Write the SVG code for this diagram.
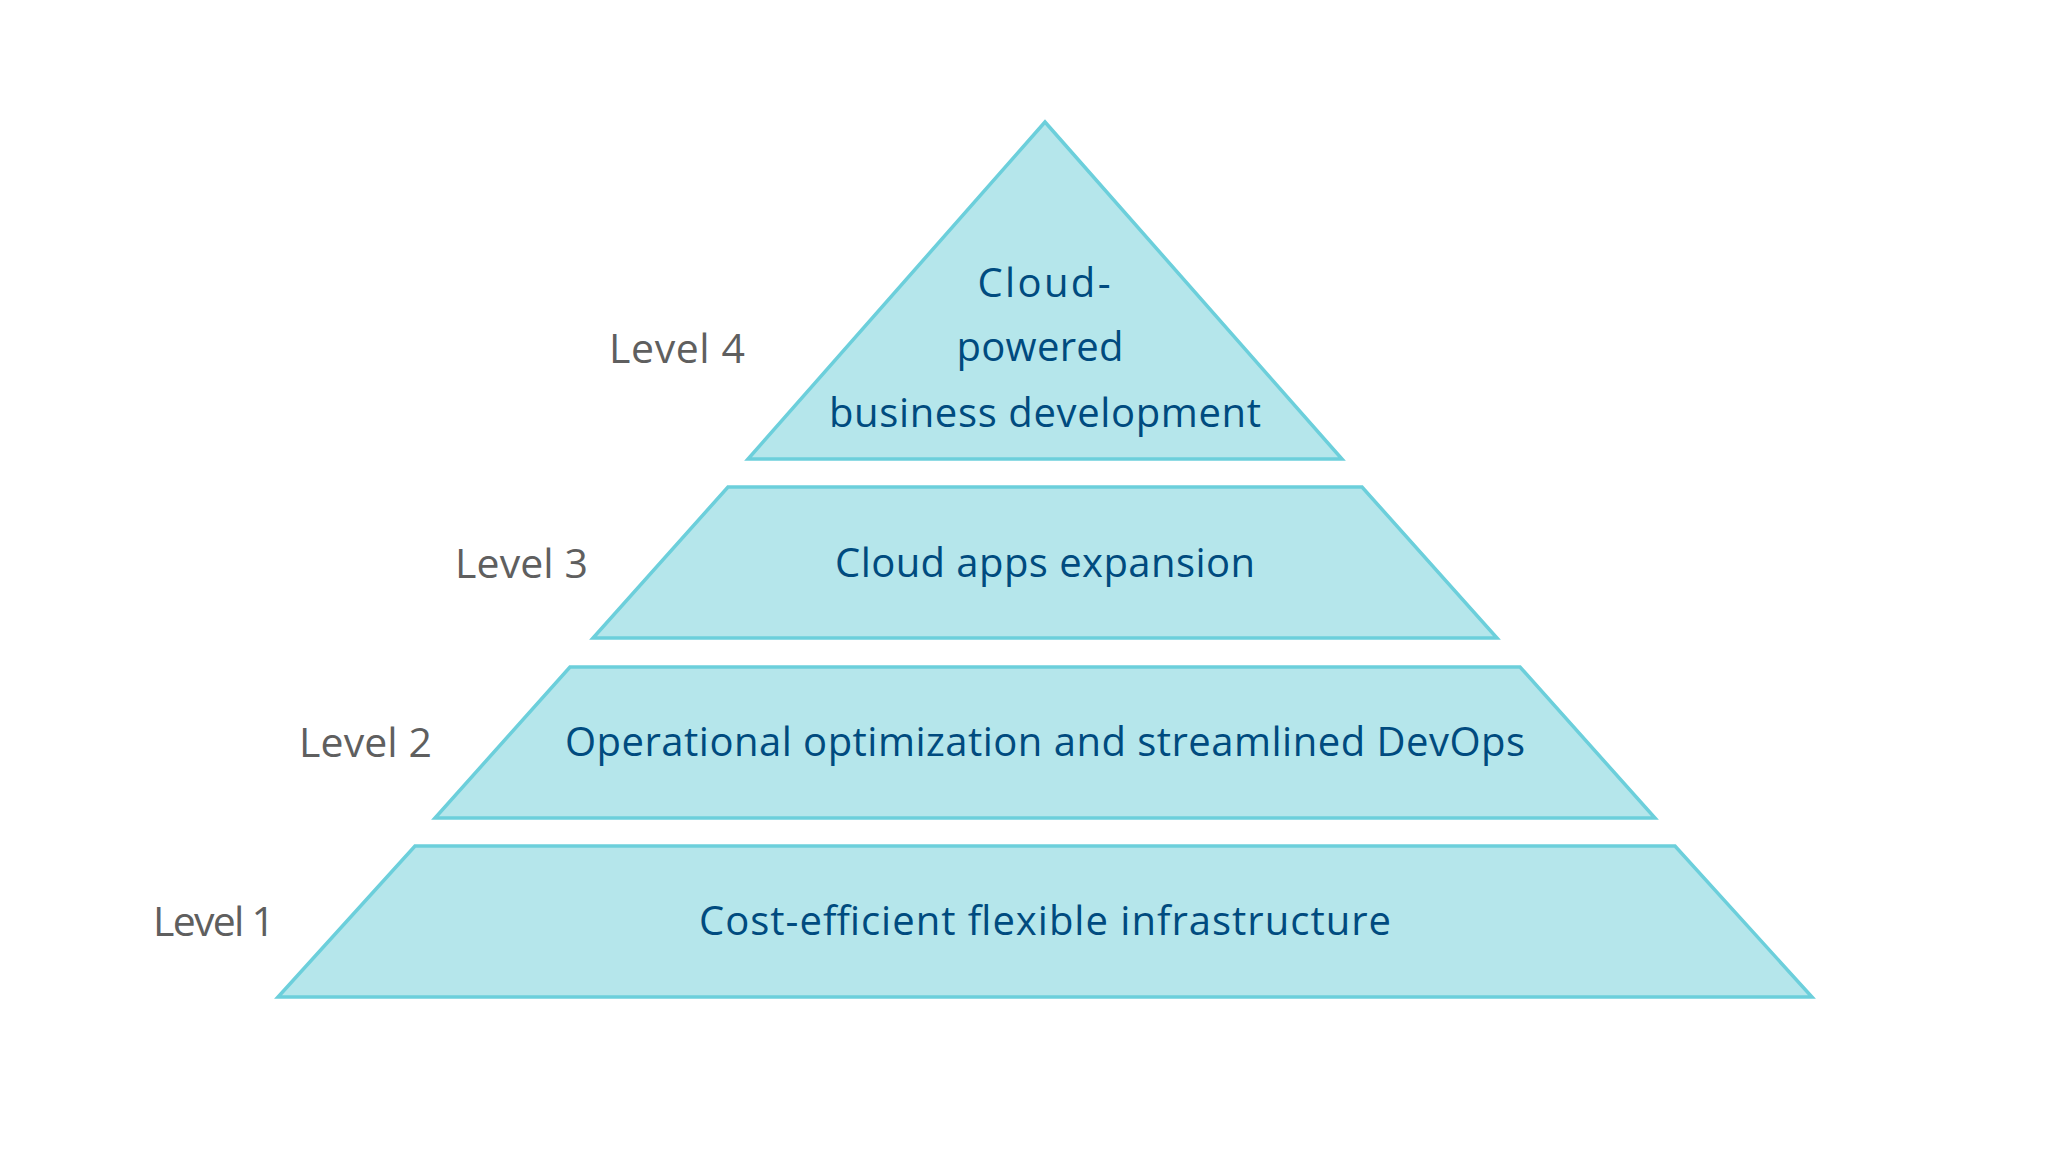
<svg xmlns="http://www.w3.org/2000/svg" width="2048" height="1160" viewBox="0 0 2048 1160">
  <style>
    .tier { fill: #b5e6eb; stroke: #6ccfdb; stroke-width: 3.5; stroke-linejoin: miter; }
    .main { font-family: "Open Sans", "Noto Sans", "Liberation Sans", sans-serif; font-size: 40px; font-weight: 500; fill: #004b7f; text-anchor: middle; }
    .lvl { font-family: "Open Sans", "Noto Sans", "Liberation Sans", sans-serif; font-size: 41px; fill: #5f5f5f; text-anchor: end; }
  </style>
  <rect width="2048" height="1160" fill="#ffffff"/>
  <g id="level4">
    <polygon class="tier" points="1045,122 1342,459 748,459"/>
    <text class="main" x="1044" y="297" textLength="133" lengthAdjust="spacing">Cloud-</text>
    <text class="main" x="1040" y="361" textLength="167" lengthAdjust="spacing">powered</text>
    <text class="main" x="1045" y="427" textLength="432" lengthAdjust="spacing">business development</text>
    <text class="lvl" x="745" y="363" textLength="136" lengthAdjust="spacing">Level 4</text>
  </g>
  <g id="level3">
    <polygon class="tier" points="728,487 1362,487 1497,638 593,638"/>
    <text class="main" x="1045" y="577" textLength="420" lengthAdjust="spacing">Cloud apps expansion</text>
    <text class="lvl" x="588" y="578" textLength="133" lengthAdjust="spacing">Level 3</text>
  </g>
  <g id="level2">
    <polygon class="tier" points="570,667 1520,667 1655,818 435,818"/>
    <text class="main" x="1045" y="756" textLength="960" lengthAdjust="spacing">Operational optimization and streamlined DevOps</text>
    <text class="lvl" x="432" y="757" textLength="133" lengthAdjust="spacing">Level 2</text>
  </g>
  <g id="level1">
    <polygon class="tier" points="415,846 1675,846 1812,997 278,997"/>
    <text class="main" x="1045" y="935" textLength="692" lengthAdjust="spacing">Cost-efficient flexible infrastructure</text>
    <text class="lvl" x="275" y="936" textLength="122" lengthAdjust="spacing">Level 1</text>
  </g>
</svg>
